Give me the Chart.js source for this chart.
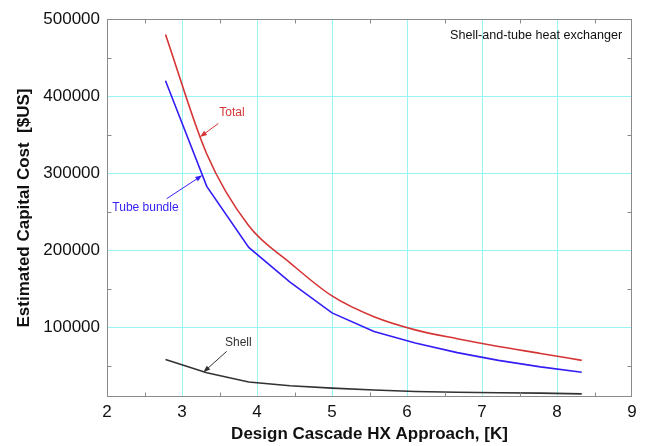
<!DOCTYPE html>
<html lang="en">
<head>
    <meta charset="UTF-8">
    <title>Capital Cost vs HX Approach</title>
    <script src="https://cdn.jsdelivr.net/npm/chart.js@4.4.0/dist/chart.umd.min.js"></script>
    <style>
        html, body { margin: 0; padding: 0; background: #fff; }
        #wrap { width: 651px; height: 446px; }
    </style>
</head>
<body>
    <div id="wrap"><canvas id="costChart"></canvas></div>

    <script>
        // Approach temperature difference, K
        const approachK = [2.78, 3.33, 3.89, 4.44, 5.0, 5.56, 6.11, 6.67, 7.22, 7.78, 8.33];
        // Estimated cost, $US
        const totalCost = [480000, 325000, 232000, 184000, 141000, 114000, 97000, 85500, 75500, 66500, 57500];
        const tubeCost  = [420000, 283000, 204000, 159000, 119000, 95000, 80000, 67500, 57500, 49000, 42000];
        const shellCost = [58500, 41500, 29500, 24500, 21500, 19000, 17200, 16200, 15500, 15000, 14000];

        const xTicks = [2, 3, 4, 5, 6, 7, 8, 9];
        const yTicks = [100000, 200000, 300000, 400000, 500000];

        const FONT = 'Arial, "Liberation Sans", sans-serif';
        const RED = 'rgb(214,52,52)';
        const BLUE = 'rgb(52,30,245)';
        const DARK = 'rgb(50,50,50)';
        const GRID = 'rgb(150,245,245)';

        // curve labels: text anchor, arrow tail and arrow tip in data units
        const curveNotes = [
            { text: 'Total', color: RED, at: [3.667, 379200], tail: [3.484, 364500], tip: [3.24, 347100] },
            { text: 'Tube bundle', color: BLUE, at: [2.513, 255800], tail: [2.796, 267100], tip: [3.271, 297400] },
            { text: 'Shell', color: DARK, at: [3.751, 80500], tail: [3.596, 69200], tip: [3.284, 41950] }
        ];

        const toPoints = ys => ys.map((y, i) => ({ x: approachK[i], y: y }));

        const notesPlugin = {
            id: 'notes',
            afterDatasetsDraw(chart) {
                const { ctx, chartArea: a, scales: { x, y } } = chart;
                ctx.save();

                // frame + small inward minor ticks
                ctx.strokeStyle = '#8a8a8a';
                ctx.lineWidth = 1;
                const L = Math.round(a.left) + 0.5, R = Math.round(a.right) - 0.5;
                const T = Math.round(a.top) + 0.5, B = Math.round(a.bottom) - 0.5;
                ctx.strokeRect(L, T, R - L, B - T);
                ctx.beginPath();
                for (let v = 2.5; v < 9; v += 1) {
                    const px = Math.round(x.getPixelForValue(v)) + 0.5;
                    ctx.moveTo(px, T); ctx.lineTo(px, T + 4);
                    ctx.moveTo(px, B); ctx.lineTo(px, B - 4);
                }
                for (let v = 50000; v < 500000; v += 100000) {
                    const py = Math.round(y.getPixelForValue(v)) + 0.5;
                    ctx.moveTo(L, py); ctx.lineTo(L + 4, py);
                    ctx.moveTo(R, py); ctx.lineTo(R - 4, py);
                }
                ctx.stroke();

                ctx.font = '12px ' + FONT;
                ctx.textAlign = 'center';
                ctx.textBaseline = 'middle';
                curveNotes.forEach(n => {
                    const tx = x.getPixelForValue(n.tail[0]), ty = y.getPixelForValue(n.tail[1]);
                    const hx = x.getPixelForValue(n.tip[0]), hy = y.getPixelForValue(n.tip[1]);
                    const ang = Math.atan2(hy - ty, hx - tx);
                    ctx.strokeStyle = n.color;
                    ctx.fillStyle = n.color;
                    ctx.lineWidth = 1;
                    ctx.beginPath();
                    ctx.moveTo(tx, ty);
                    ctx.lineTo(hx - 5 * Math.cos(ang), hy - 5 * Math.sin(ang));
                    ctx.stroke();
                    ctx.beginPath();
                    ctx.moveTo(hx, hy);
                    ctx.lineTo(hx - 7 * Math.cos(ang) + 2.6 * Math.sin(ang), hy - 7 * Math.sin(ang) - 2.6 * Math.cos(ang));
                    ctx.lineTo(hx - 7 * Math.cos(ang) - 2.6 * Math.sin(ang), hy - 7 * Math.sin(ang) + 2.6 * Math.cos(ang));
                    ctx.closePath();
                    ctx.fill();
                    ctx.fillText(n.text, x.getPixelForValue(n.at[0]), y.getPixelForValue(n.at[1]));
                });

                ctx.fillStyle = '#111';
                ctx.font = '12.6px ' + FONT;
                ctx.textAlign = 'right';
                ctx.fillText('Shell-and-tube heat exchanger', x.getPixelForValue(8.87), y.getPixelForValue(479200));
                ctx.restore();
            }
        };

        const lineSet = (label, ys, color, smooth) => ({
            label: label,
            data: toPoints(ys),
            borderColor: color,
            borderWidth: 1.6,
            pointRadius: 0,
            tension: 0,
            cubicInterpolationMode: smooth ? 'monotone' : 'default',
            fill: false
        });

        // no grid line on the frame edges, the frame is drawn by the plugin
        const gridColor = (lo, hi) => c => (c.tick && (c.tick.value === lo || c.tick.value === hi)) ? 'rgba(0,0,0,0)' : GRID;

        new Chart(document.getElementById('costChart'), {
            type: 'line',
            data: {
                datasets: [
                    lineSet('Total', totalCost, RED, true),
                    lineSet('Tube bundle', tubeCost, BLUE, false),
                    lineSet('Shell', shellCost, DARK, false)
                ]
            },
            options: {
                responsive: true,
                maintainAspectRatio: false,
                animation: false,
                layout: { padding: { top: 19, right: 19, left: 0, bottom: 0 } },
                plugins: { legend: { display: false }, tooltip: { enabled: false } },
                scales: {
                    x: {
                        type: 'linear',
                        min: 2, max: 9,
                        afterBuildTicks: s => { s.ticks = xTicks.map(v => ({ value: v })); },
                        afterFit: s => { s.height = 49; },
                        grid: { color: gridColor(2, 9), lineWidth: 1, drawTicks: false },
                        border: { display: false },
                        ticks: { color: '#111', padding: 5, font: { family: FONT, size: 17 } },
                        title: {
                            display: true,
                            text: 'Design Cascade HX Approach, [K]',
                            color: '#111',
                            font: { family: FONT, size: 17, weight: 'bold' },
                            padding: { top: 0, bottom: 1 }
                        }
                    },
                    y: {
                        type: 'linear',
                        min: 10000, max: 500000,
                        afterBuildTicks: s => { s.ticks = yTicks.map(v => ({ value: v })); },
                        afterFit: s => { s.width = 107; },
                        grid: { color: gridColor(10000, 500000), lineWidth: 1, drawTicks: false },
                        border: { display: false },
                        ticks: {
                            color: '#111', padding: 7, font: { family: FONT, size: 17 },
                            callback: v => String(v)
                        },
                        title: {
                            display: true,
                            text: 'Estimated Capital Cost  [$US]',
                            color: '#111',
                            font: { family: FONT, size: 17, weight: 'bold' },
                            padding: { top: 14, bottom: 0 }
                        }
                    }
                }
            },
            plugins: [notesPlugin]
        });
    </script>
</body>
</html>
